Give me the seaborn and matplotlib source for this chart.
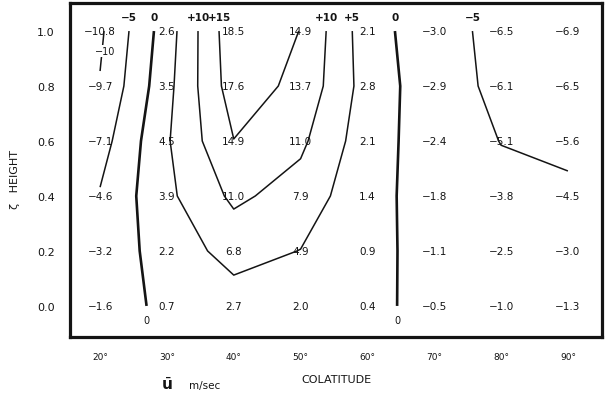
import numpy as np
import pandas as pd
import matplotlib
matplotlib.use("Agg")
import matplotlib.pyplot as plt
import seaborn as sns

# ---- data ----
colatitudes = [20, 30, 40, 50, 60, 70, 80, 90]
heights = [0.0, 0.2, 0.4, 0.6, 0.8, 1.0]
u_h00 = [-1.6, 0.7, 2.7, 2.0, 0.4, -0.5, -1.0, -1.3]
u_h02 = [-3.2, 2.2, 6.8, 4.9, 0.9, -1.1, -2.5, -3.0]
u_h04 = [-4.6, 3.9, 11.0, 7.9, 1.4, -1.8, -3.8, -4.5]
u_h06 = [-7.1, 4.5, 14.9, 11.0, 2.1, -2.4, -5.1, -5.6]
u_h08 = [-9.7, 3.5, 17.6, 13.7, 2.8, -2.9, -6.1, -6.5]
u_h10 = [-10.8, 2.6, 18.5, 14.9, 2.1, -3.0, -6.5, -6.9]
contour_levels = [-10, -5, 0, 5, 10, 15]
xtick_labels = ["20°", "30°", "40°", "50°", "60°", "70°", "80°", "90°"]
ytick_labels = ["0.0", "0.2", "0.4", "0.6", "0.8", "1.0"]

df = pd.DataFrame([u_h00, u_h02, u_h04, u_h06, u_h08, u_h10],
                  index=heights, columns=colatitudes)

sns.set_style("white")
plt.rcParams["font.family"] = ["DejaVu Sans"]
INK = "#141414"

fig = plt.figure(figsize=(6.16, 4.02), dpi=100)
ax = fig.add_axes([70 / 616, 1 - 338 / 402, 532 / 616, 334 / 402])
ax.set_xlim(15.5, 95.1)
ax.set_ylim(-0.113, 1.102)

# value annotations
for h in df.index:
    for c in df.columns:
        v = df.loc[h, c]
        ax.text(c, h, f"{v:.1f}".replace("-", "−"), ha="center", va="center",
                fontsize=7.5, color=INK)

# contours
lws = [1.9 if lv == 0 else 1.1 for lv in contour_levels]
cs = ax.contour(df.columns.values, df.index.values, df.values,
                levels=contour_levels, colors=INK, linewidths=lws,
                linestyles="solid")

def fmt(lv):
    if lv > 0:
        return f"+{lv}"
    return f"{lv}".replace("-", "−")

# top ends that carry no label in the original (a value sits there)
unlabeled_ends = [(5, "left"), (15, "right")]

for lv, segs in zip(contour_levels, cs.allsegs):
    for seg in segs:
        if len(seg) < 2:
            continue
        if lv == -10:
            mid = seg.mean(axis=0)
            ax.text(mid[0] + 0.4, mid[1], fmt(lv), ha="center", va="center",
                    fontsize=7, color=INK,
                    bbox=dict(fc="white", ec="none", pad=0.5))
            continue
        tops = [p for p in (seg[0], seg[-1]) if p[1] >= 0.999]
        tops.sort(key=lambda p: p[0])
        for i, p in enumerate(tops):
            side = "left" if (len(tops) == 2 and i == 0) else (
                "right" if len(tops) == 2 else "only")
            if (lv, side) in unlabeled_ends:
                continue
            ax.annotate(fmt(lv), (p[0], p[1]), xytext=(0, 10),
                        textcoords="offset points", ha="center",
                        va="center", fontsize=7.5, color=INK,
                        fontweight="bold")
        if lv == 0:
            for p in (seg[0], seg[-1]):
                if p[1] <= 0.001:
                    ax.annotate(fmt(lv), (p[0], p[1]), xytext=(0, -10),
                                textcoords="offset points", ha="center",
                                va="center", fontsize=7, color=INK)

# axes styling
ax.set_xticks(colatitudes)
ax.set_xticklabels(xtick_labels, fontsize=6.5)
ax.set_yticks(heights)
ax.set_yticklabels(ytick_labels, fontsize=8)
ax.tick_params(axis="x", direction="out", length=8, width=1.4, color=INK,
               pad=3, labelcolor=INK)
ax.tick_params(axis="y", direction="out", length=9, width=1.4, color=INK,
               pad=2, labelcolor=INK)
for s in ax.spines.values():
    s.set_visible(True)
    s.set_linewidth(2.3)
    s.set_color(INK)

fig.text(15 / 616, 1 - 180 / 402, "ζ   HEIGHT", rotation=90, ha="center",
         va="center", fontsize=8, color=INK)
fig.text(336 / 616, 1 - 380 / 402, "COLATITUDE", ha="center", va="center",
         fontsize=8, color=INK)
fig.text(167 / 616, 1 - 385 / 402, r"$\bar{\mathbf{u}}$", ha="center",
         va="center", fontsize=11, color=INK)
fig.text(205 / 616, 1 - 386 / 402, "m/sec", ha="center", va="center",
         fontsize=7.5, color=INK)

fig.savefig("out.png", dpi=100, facecolor="white")
